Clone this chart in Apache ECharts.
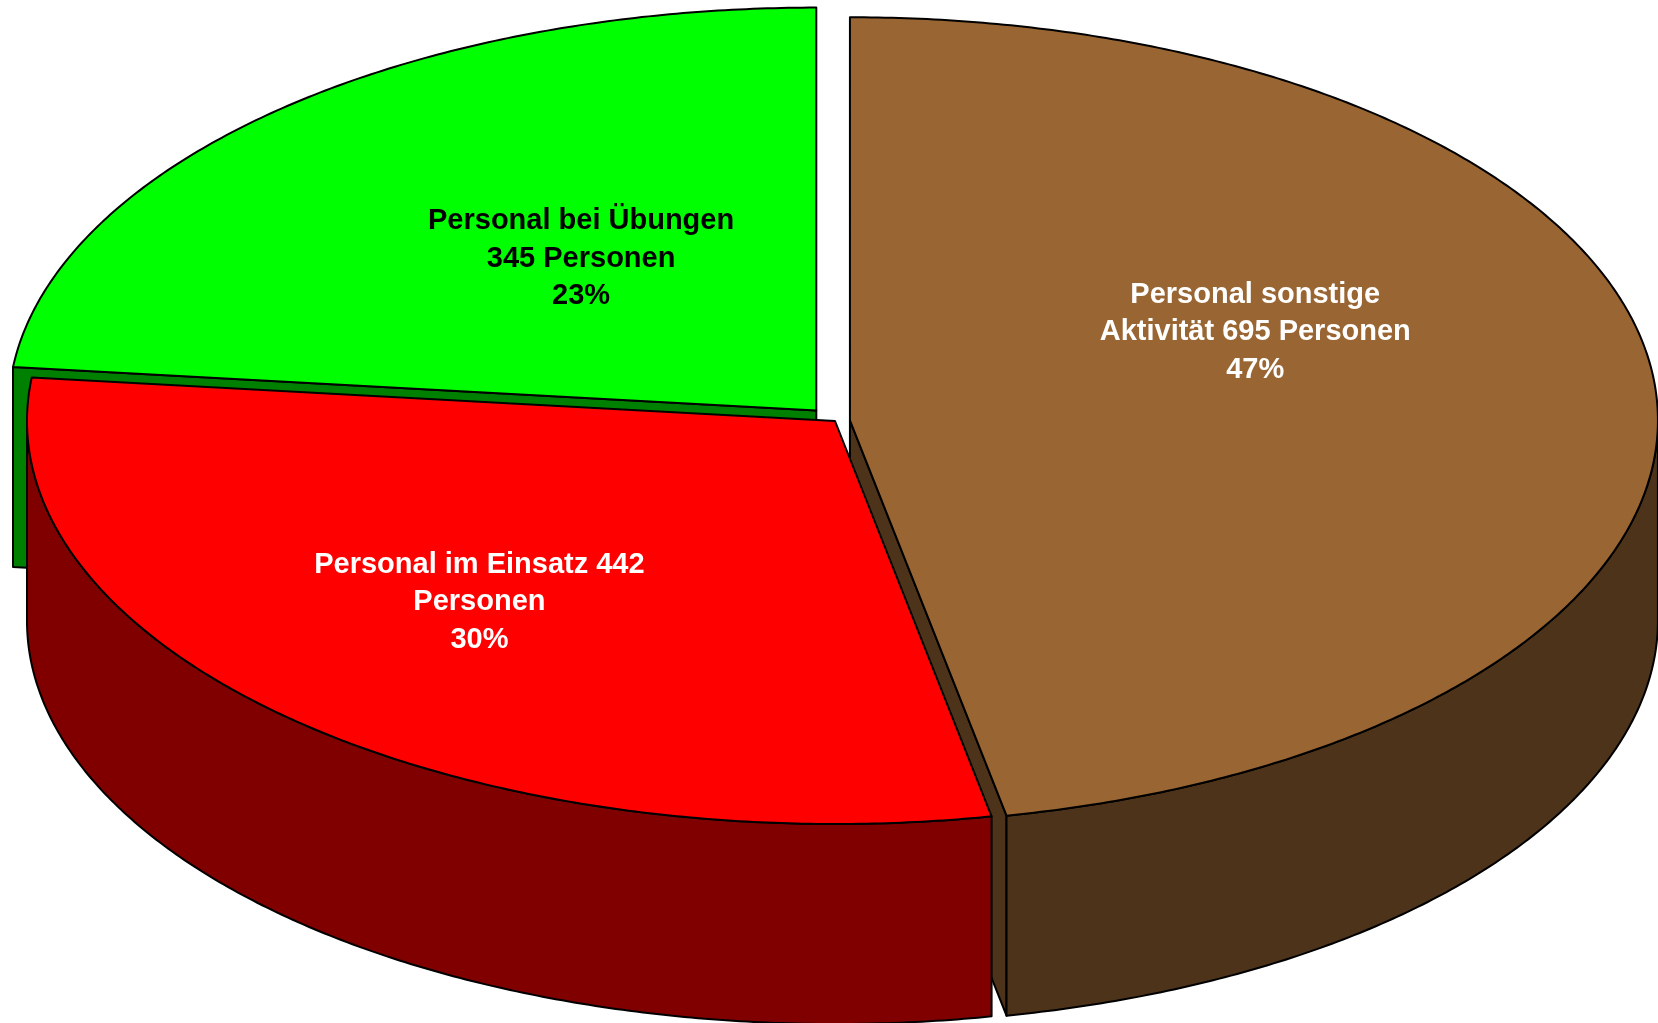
<!DOCTYPE html>
<html><head><meta charset="utf-8">
<script src="https://cdn.jsdelivr.net/npm/echarts@6/dist/echarts.min.js"></script>
<style>html,body{margin:0;padding:0;background:#fff}#c{width:1658px;height:1023px}</style>
</head><body><div id="c"></div>
<script>
// ---- data ----
const categories = ['Personal sonstige Aktivität', 'Personal im Einsatz', 'Personal bei Übungen'];
const values = [695, 442, 345];
const labelLines = [
  ['Personal sonstige', 'Aktivität 695 Personen'],
  ['Personal im Einsatz 442', 'Personen'],
  ['Personal bei Übungen', '345 Personen']
];

// ---- style / layout ----
const topColors = ['#996633', '#FF0000', '#00FF00'];
const sideColors = ['#4C3319', '#800000', '#008000'];
const labelColors = ['#FFFFFF', '#FFFFFF', '#000000'];
const explode = [15, 0, 28];
const labelPos = [[0.547, 66.5], [0.629, 224.4], [0.476, 322.3]]; // [radius fraction, angle deg]
const L = { cx: 835, cy: 421, rx: 808, ry: 403, depth: 200 };

const total = values.reduce((a, b) => a + b, 0);
const starts = [];
{ let acc = 0; values.forEach(v => { starts.push(acc); acc += v; }); }

function pt(cx, cy, th, dz) { return [cx + L.rx * Math.sin(th), cy - L.ry * Math.cos(th) + (dz || 0)]; }
function arc(cx, cy, a0, a1, dz) {
  const n = Math.max(2, Math.ceil(Math.abs(a1 - a0) / (Math.PI / 360)));
  const p = [];
  for (let i = 0; i <= n; i++) p.push(pt(cx, cy, a0 + (a1 - a0) * i / n, dz));
  return p;
}
const strokeStyle = { stroke: '#000', lineWidth: 2, lineJoin: 'round' };

function renderItem(params, api) {
  const i = params.dataIndex;
  const v = api.value(0);
  const a0 = starts[i] / total * 2 * Math.PI;
  const a1 = (starts[i] + v) / total * 2 * Math.PI;
  const mid = (a0 + a1) / 2;
  const cx = L.cx + explode[i] * Math.sin(mid);
  const cy = L.cy - explode[i] * Math.cos(mid) * (L.ry / L.rx);
  const D = L.depth;
  const children = [];
  const side = sideColors[i];
  // radial walls
  if (Math.sin(a0) < -1e-6) {
    const r = pt(cx, cy, a0, 0);
    children.push({ type: 'polygon', z2: 1, shape: { points: [[cx, cy], r, [r[0], r[1] + D], [cx, cy + D]] },
      style: Object.assign({ fill: side }, strokeStyle) });
  }
  if (Math.sin(a1) > 1e-6) {
    const r = pt(cx, cy, a1, 0);
    children.push({ type: 'polygon', z2: 1, shape: { points: [[cx, cy], r, [r[0], r[1] + D], [cx, cy + D]] },
      style: Object.assign({ fill: side }, strokeStyle) });
  }
  // outer wall (front half only)
  const lo = Math.max(a0, Math.PI / 2), hi = Math.min(a1, 3 * Math.PI / 2);
  if (hi > lo) {
    const pts = arc(cx, cy, lo, hi, 0).concat(arc(cx, cy, hi, lo, D));
    children.push({ type: 'polygon', z2: 2, shape: { points: pts },
      style: Object.assign({ fill: side }, strokeStyle) });
  }
  // top face
  children.push({ type: 'polygon', z2: 3, shape: { points: [[cx, cy]].concat(arc(cx, cy, a0, a1, 0)) },
    style: Object.assign({ fill: topColors[i] }, strokeStyle) });
  // label
  const lp = labelPos[i];
  const la = lp[1] * Math.PI / 180;
  const pct = Math.round(v / total * 100) + '%';
  children.push({ type: 'text', z2: 4, style: {
    text: labelLines[i].concat([pct]).join('\n'),
    x: cx + lp[0] * L.rx * Math.sin(la), y: cy - lp[0] * L.ry * Math.cos(la),
    fill: labelColors[i], align: 'center', verticalAlign: 'middle',
    fontFamily: '"Liberation Sans", Arial, sans-serif', fontWeight: 'bold', fontSize: 29, lineHeight: 37.5
  } });
  return { type: 'group', children };
}

const chart = echarts.init(document.getElementById('c'), null, { renderer: 'canvas' });
chart.setOption({
  animation: false,
  backgroundColor: '#fff',
  series: [{
    type: 'custom',
    coordinateSystem: 'none',
    renderItem,
    data: values.map((v, k) => ({ name: categories[k], value: [v] }))
  }]
});
</script></body></html>
